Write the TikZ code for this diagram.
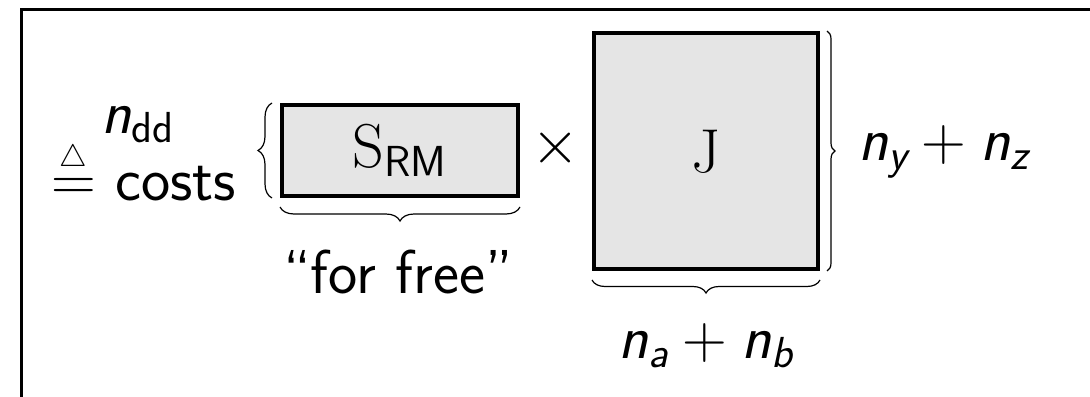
\RequirePackage{fix-cm}
\documentclass[tikz,border=0pt]{standalone}
\usepackage{amsmath}
\usetikzlibrary{decorations.pathreplacing}
\newcommand\mysfi[1]{\textsf{\itshape #1}}
\newcommand\mysf[1]{\textsf{#1}}
\newcommand\mytriq{\mathrel{\overset{\scriptscriptstyle\triangle}{=}}}
\begin{document}
\begin{tikzpicture}[x=0.5pt,y=-0.5pt,
  every node/.style={font=\fontsize{31}{37}\selectfont\sffamily, inner sep=0pt},
  mat/.style={draw, line width=2pt, fill=black!10},
  brc/.style={decorate, decoration={brace, amplitude=#1}, line width=0.6pt},
]
\useasboundingbox (0,0) rectangle (1090,396);
\begin{scope}
\clip (0,0) rectangle (1090,396);
\draw[line width=1.5pt] (21,420) -- (21,9) -- (1110,9);
\end{scope}
\node[mat, minimum width=118pt, minimum height=45.5pt] (S) at (400,150.5) {$\mathrm{S}_{\mysf{RM}}$};
\node[mat, minimum width=112pt, minimum height=118pt] (J) at (706,151) {$\mathrm{J}$};
\draw[brc=7pt] ([xshift=-4pt]S.south west) -- ([xshift=-4pt]S.north west);
\draw[brc=7pt] ([yshift=-4.5pt]S.south east) -- ([yshift=-4.5pt]S.south west);
\draw[brc=6.5pt] ([yshift=-4.5pt]J.south east) -- ([yshift=-4.5pt]J.south west);
\draw[brc=4pt] ([xshift=3.5pt]J.north east) -- ([xshift=3.5pt]J.south east);
\node[anchor=base] (ff) at (398,293) {\textquotedblleft for free\textquotedblright};
\node (times) at (556,148) {$\times$};
\node[anchor=base west] (ny) at (858,160) {$\mysfi{n}_{\mysfi{y}} + \mysfi{n}_{\mysfi{z}}$};
\node[anchor=base] (na) at (706,358) {$\mysfi{n}_{\mysfi{a}} + \mysfi{n}_{\mysfi{b}}$};
\node[anchor=base west] (eq) at (51,200) {$\mytriq$};
\node[anchor=base west] (costs) at (115,200) {costs};
\node[anchor=base west] (nd) at (101,133) {$\mysfi{n}_{\mysf{dd}}$};
\end{tikzpicture}
\end{document}
